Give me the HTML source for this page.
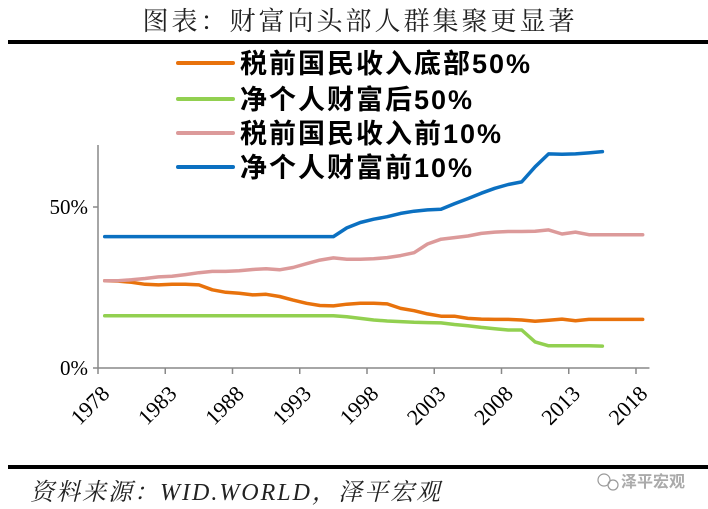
<!DOCTYPE html>
<html><head><meta charset="utf-8"><style>
body{margin:0;background:#fff;width:708px;height:509px;overflow:hidden;}
svg{display:block}
.s{font-family:"Liberation Serif","Noto Serif CJK SC",serif;}
.b{font-family:"Liberation Sans","Noto Sans CJK SC",sans-serif;font-weight:bold;}
</style></head><body>
<svg id="c" width="708" height="509">
<text class="s" x="360" y="30" font-size="26" text-anchor="middle" fill="#222" letter-spacing="3">图表：财富向头部人群集聚更显著</text>
<rect x="8" y="40" width="702" height="4" fill="#000"/>
<rect x="8" y="465" width="702" height="4" fill="#000"/>
<text class="s" x="30" y="500" font-size="24" font-style="italic" fill="#222" letter-spacing="2">资料来源：WID.WORLD，泽平宏观</text>
<g>
<circle cx="604" cy="480" r="6" fill="none" stroke="#999" stroke-width="1.2"/>
<circle cx="613" cy="485" r="5" fill="none" stroke="#999" stroke-width="1.2"/>
<text class="b" x="621" y="487" font-size="16" fill="#aaa" font-weight="normal">泽平宏观</text>
</g>
<g id="legend"></g>
<g id="axes"></g>
<g id="plot"></g>
</svg>
<script>
const years=[];for(let y=1978;y<=2018;y++)years.push(y);
const xTickLabels=["1978","1983","1988","1993","1998","2003","2008","2013","2018"];
const yTickLabels=["0%","50%"];
const yTickValues=[0,50];
const seriesNames=["税前国民收入底部50%","净个人财富后50%","税前国民收入前10%","净个人财富前10%"];
const seriesColors=["#e8720c","#92d050","#dc9a9a","#0b70c1"];
const incomeBottom50=[27.1,27,26.6,26,25.8,26,26,25.8,24.3,23.5,23.2,22.7,22.9,22.2,21.1,20.1,19.4,19.3,19.8,20.1,20.1,19.9,18.5,17.8,16.8,16.1,16.1,15.4,15.2,15.1,15.1,14.9,14.5,14.8,15.2,14.7,15.1,15.1,15.1,15.1,15.1];
const wealthBottom50=[16.25,16.25,16.25,16.25,16.25,16.25,16.25,16.25,16.25,16.25,16.25,16.25,16.25,16.25,16.25,16.25,16.25,16.25,15.9,15.4,14.9,14.6,14.4,14.2,14.1,14,13.5,13.1,12.6,12.2,11.8,11.8,8.1,6.9,6.9,6.9,6.9,6.8];
const incomeTop10=[27.1,27.1,27.4,27.8,28.3,28.5,29,29.6,30,30,30.2,30.6,30.8,30.5,31.2,32.4,33.5,34.2,33.8,33.8,33.9,34.3,34.9,35.8,38.5,40,40.5,41,41.8,42.2,42.4,42.4,42.5,42.9,41.6,42.2,41.4,41.4,41.4,41.4,41.4];
const wealthTop10=[40.8,40.8,40.8,40.8,40.8,40.8,40.8,40.8,40.8,40.8,40.8,40.8,40.8,40.8,40.8,40.8,40.8,40.8,43.5,45.2,46.2,47,48,48.7,49.1,49.3,51,52.6,54.3,55.8,57,57.8,62.5,66.5,66.4,66.5,66.8,67.2];
const series=[incomeBottom50,wealthBottom50,incomeTop10,wealthTop10];
const NS="http://www.w3.org/2000/svg";
const X0=98,BW=13.45,Y0=368,PPP=3.22;
function xPos(i){return X0+(i+0.5)*BW;}
function yPos(v){return Y0-v*PPP;}
function mk(t,a,p){const e=document.createElementNS(NS,t);for(const k in a)e.setAttribute(k,a[k]);p.appendChild(e);return e;}
const axes=document.getElementById('axes'),plot=document.getElementById('plot'),lg=document.getElementById('legend');
let e=mk('line',{x1:X0,y1:145,x2:X0,y2:Y0,stroke:'#888','stroke-width':1.5},axes);

e=mk('line',{x1:X0,y1:Y0,x2:X0+years.length*BW,y2:Y0,stroke:'#888','stroke-width':1.5},axes);

yTickValues.forEach((v,i)=>{
 let t=mk('line',{x1:X0-5,y1:yPos(v),x2:X0,y2:yPos(v),stroke:'#888','stroke-width':1.5},axes);
 
 let l=mk('text',{x:88,y:yPos(v)+7,'text-anchor':'end','font-size':21,class:'s',fill:'#000'},axes);
 l.textContent=yTickLabels[i];
 
});
xTickLabels.forEach((lab,k)=>{
 const i=years.indexOf(+lab);
 const tx=X0+i*BW;
 let t=mk('line',{x1:tx,y1:Y0,x2:tx,y2:Y0+6,stroke:'#888','stroke-width':1.5},axes);
 
 const cx=xPos(i)+6,cy=Y0+27;
 let l=mk('text',{x:cx,y:cy,'text-anchor':'end','font-size':22,class:'s',fill:'#000',transform:`rotate(-45 ${cx} ${cy})`},axes);
 l.textContent=lab;
 
});
const legY=[63,99,133,167];
series.forEach((s,j)=>{
 const d=s.map((v,i)=>(i?'L':'M')+xPos(i).toFixed(1)+','+yPos(v).toFixed(1)).join('');
 let p=mk('path',{d:d,fill:'none',stroke:seriesColors[j],'stroke-width':3.5,'stroke-linejoin':'round','stroke-linecap':'round'},plot);
 
 let g=mk('g',{},lg);
 
 mk('line',{x1:178,y1:legY[j],x2:233,y2:legY[j],stroke:seriesColors[j],'stroke-width':4,'stroke-linecap':'round'},g);
 let t=mk('text',{x:240,y:legY[j]+10,'font-size':27,class:'b',fill:'#000','letter-spacing':'2'},g);
 t.textContent=seriesNames[j];
});
</script>
</body></html>
